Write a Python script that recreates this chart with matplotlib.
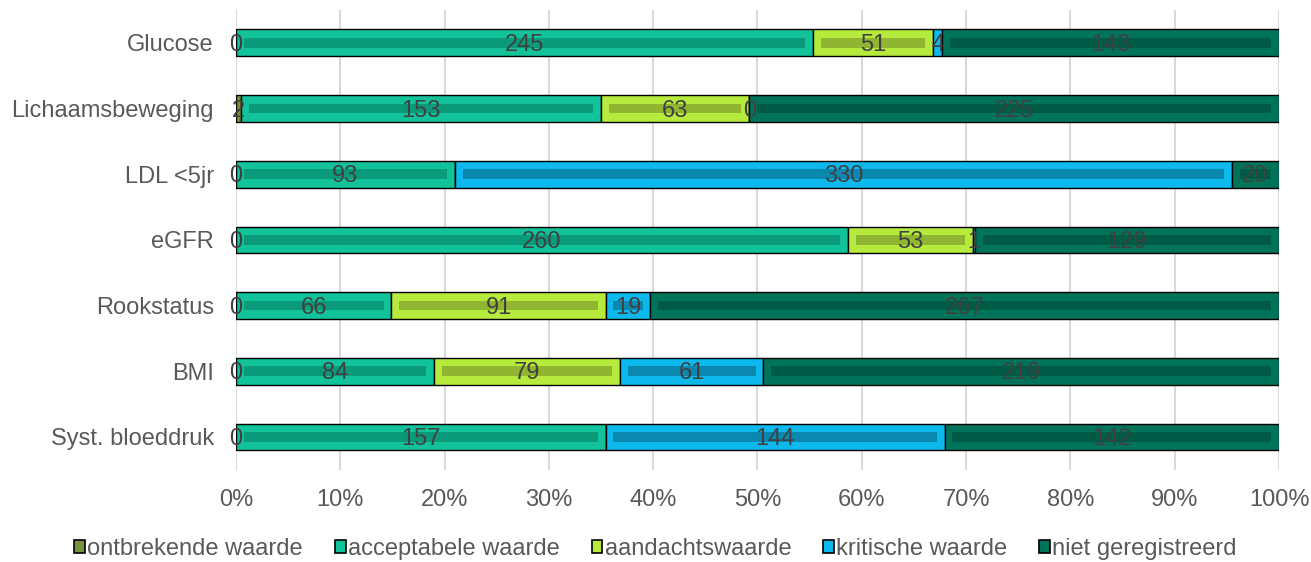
import numpy as np
import matplotlib
matplotlib.use("Agg")
import matplotlib.pyplot as plt
from matplotlib.patches import Patch

plt.rcParams['font.family'] = ['Liberation Sans', 'DejaVu Sans']

# -----------------------
# data
# -----------------------
categories = ['Glucose', 'Lichaamsbeweging', 'LDL <5jr', 'eGFR',
              'Rookstatus', 'BMI', 'Syst. bloeddruk']
series_names = ['ontbrekende waarde', 'acceptabele waarde', 'aandachtswaarde',
                'kritische waarde', 'niet geregistreerd']

ontbrekende = [0, 2, 0, 0, 0, 0, 0]
acceptabel = [245, 153, 93, 260, 66, 84, 157]
aandacht = [51, 63, np.nan, 53, 91, 79, np.nan]
kritisch = [4, 0, 330, 1, 19, 61, 144]
niet_geregistreerd = [143, 225, 20, 129, 267, 219, 142]

colors = ['#77933C', '#12C29B', '#B6EB3E', '#0DB8EC', '#00745B']
inner_colors = ['#5E7A2C', '#0A9A7A', '#8FB531', '#0A88B0', '#005B46']

FS = 17

# -----------------------
# plot
# -----------------------
data = np.array([ontbrekende, acceptabel, aandacht, kritisch, niet_geregistreerd], dtype=float)
vals = np.nan_to_num(data)
totals = vals.sum(axis=0)
pct = vals / totals * 100.0

fig = plt.figure(figsize=(13.11, 5.62), dpi=100)
ax = fig.add_axes([0.180, 0.164, 0.7956, 0.818])

y = np.arange(len(categories))
bar_h = 0.41
inset = 0.75  # in percent units
left = np.zeros(len(categories))

for k in range(len(series_names)):
    w = pct[k]
    ax.barh(y, w, left=left, height=bar_h, color=colors[k],
            edgecolor='black', linewidth=1.0, zorder=3)
    # darker inner stripe (bevel look)
    for i in range(len(categories)):
        if w[i] > 2.5 * inset:
            ax.barh(y[i], w[i] - 2 * inset, left=left[i] + inset, height=bar_h * 0.36,
                    color=inner_colors[k], linewidth=0, zorder=4)
    # labels
    for i in range(len(categories)):
        if np.isnan(data[k, i]):
            continue
        ax.text(left[i] + w[i] / 2, y[i] + 0.03, '%d' % data[k, i], ha='center', va='center',
                fontsize=FS, color='#404040', zorder=5)
    left = left + w

ax.set_xlim(0, 100)
ax.set_ylim(len(categories) - 0.5, -0.5)
ax.set_xticks(np.arange(0, 101, 10))
ax.set_xticklabels(['%d%%' % v for v in range(0, 101, 10)])
ax.set_yticks(y)
ax.set_yticklabels(categories)
ax.tick_params(axis='both', length=0, labelsize=FS, colors='#595959')
ax.tick_params(axis='y', pad=16)
ax.tick_params(axis='x', pad=14)
ax.grid(axis='x', color='#D9D9D9', linewidth=1.5, zorder=0)
for s in ax.spines.values():
    s.set_visible(False)

handles = [Patch(facecolor=colors[k], edgecolor='black', linewidth=1.2, label=series_names[k])
           for k in range(len(series_names))]
fig.legend(handles=handles, loc='center', bbox_to_anchor=(0.5, 0.023), ncol=5,
           frameon=False, fontsize=FS, labelcolor='#595959', handlelength=0.45,
           handleheight=0.45, handletextpad=0.1, columnspacing=1.35)

plt.savefig('out.png', dpi=100)
plt.close()
